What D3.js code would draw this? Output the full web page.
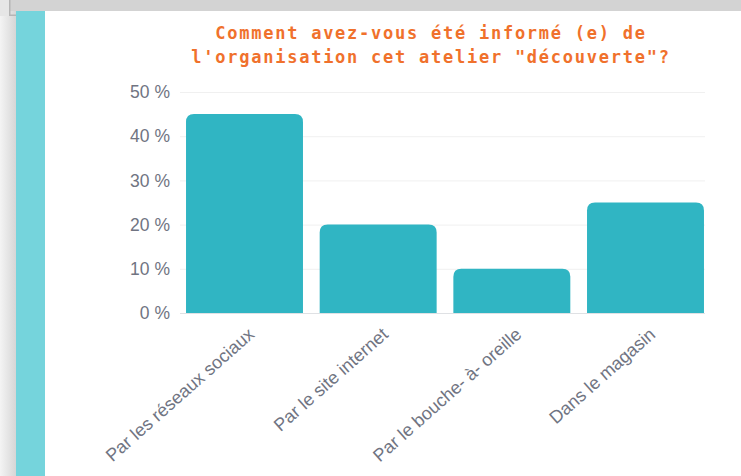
<!DOCTYPE html>
<html>
<head>
<meta charset="utf-8">
<script src="https://cdn.jsdelivr.net/npm/d3@7"></script>
<style>
  body { margin: 0; background: #ffffff; }
  svg { display: block; }
</style>
</head>
<body>
<div id="chart"></div>
<script>
// data
var categories = ["Par les réseaux sociaux", "Par le site internet", "Par le bouche- à- oreille", "Dans le magasin"];
var values = [45, 20, 10, 25];
var yTicks = [0, 10, 20, 30, 40, 50];
var titleLines = ["Comment avez-vous été informé (e) de", "l'organisation cet atelier \"découverte\"?"];

var width = 741;
var height = 476;

var svg = d3.select("#chart").append("svg")
    .attr("width", width)
    .attr("height", height);

// frame around the card (screenshot look)
var defs = svg.append("defs");
var grad = defs.append("linearGradient").attr("id", "shadow")
    .attr("x1", "0").attr("x2", "1").attr("y1", "0").attr("y2", "0");
grad.append("stop").attr("offset", "0").attr("stop-color", "#f4f4f4");
grad.append("stop").attr("offset", "1").attr("stop-color", "#d6d6d6");

svg.append("rect").attr("x", 0).attr("y", 0).attr("width", 16).attr("height", height).attr("fill", "url(#shadow)");
svg.append("rect").attr("x", 0).attr("y", 0).attr("width", 10).attr("height", 16).attr("fill", "#e6e6e6");
svg.append("rect").attr("x", 10).attr("y", 0).attr("width", width - 10).attr("height", 11).attr("fill", "#d3d3d3");
svg.append("rect").attr("x", 9).attr("y", 0).attr("width", 1.5).attr("height", 16).attr("fill", "#b5b5b5");
svg.append("rect").attr("x", 9).attr("y", 14.5).attr("width", 7).attr("height", 1.5).attr("fill", "#b5b5b5");
svg.append("rect").attr("x", 16).attr("y", 11).attr("width", 29).attr("height", height - 11).attr("fill", "#75d4dc");

// title
var title = svg.append("g")
    .attr("font-family", "'DejaVu Sans Mono', monospace")
    .attr("font-weight", "bold")
    .attr("font-size", 17)
    .attr("fill", "#f0712c")
    .attr("text-anchor", "middle");
title.selectAll("text")
    .data(titleLines)
    .enter()
    .append("text")
    .attr("x", 431)
    .attr("y", function(d, i) { return 39 + i * 24; })
    .attr("letter-spacing", "1.75px")
    .text(function(d) { return d; });

// scales
var x = d3.scaleBand()
    .domain(categories)
    .range([178, 712])
    .paddingInner(0.125)
    .paddingOuter(0.06);

var y = d3.scaleLinear()
    .domain([0, 50])
    .range([313, 92]);

// grid lines
svg.append("g")
    .selectAll("line")
    .data(yTicks)
    .enter()
    .append("line")
    .attr("x1", 180)
    .attr("x2", 705)
    .attr("y1", function(d) { return y(d) + 0.5; })
    .attr("y2", function(d) { return y(d) + 0.5; })
    .attr("stroke", function(d) { return d == 0 ? "#dfe1e4" : "#f0f0f0"; })
    .attr("stroke-width", 1);

// y axis labels
var yAxis = d3.axisLeft(y)
    .tickValues(yTicks)
    .tickSize(0)
    .tickPadding(0)
    .tickFormat(function(d) { return d + " %"; });

var yg = svg.append("g")
    .attr("transform", "translate(170,0)")
    .call(yAxis);
yg.select(".domain").remove();
yg.selectAll("text")
    .attr("font-family", "'Liberation Sans', Arial, sans-serif")
    .attr("font-size", 17.5)
    .attr("fill", "#707482");

// bars with rounded tops
var r = 8;
function barPath(d, i) {
    var x0 = x(categories[i]);
    var w = x.bandwidth();
    var y0 = y(d);
    var y1 = y(0);
    return "M" + x0 + "," + y1 +
        "V" + (y0 + r) +
        "Q" + x0 + "," + y0 + " " + (x0 + r) + "," + y0 +
        "H" + (x0 + w - r) +
        "Q" + (x0 + w) + "," + y0 + " " + (x0 + w) + "," + (y0 + r) +
        "V" + y1 + "Z";
}

svg.append("g")
    .selectAll("path")
    .data(values)
    .enter()
    .append("path")
    .attr("d", barPath)
    .attr("fill", "#30b5c3");

// x labels rotated
svg.append("g")
    .selectAll("text")
    .data(categories)
    .enter()
    .append("text")
    .attr("transform", function(d) {
        var cx = x(d) + x.bandwidth() / 2 + 11;
        return "translate(" + cx + ",336) rotate(-41.5)";
    })
    .attr("text-anchor", "end")
    .attr("font-family", "'Liberation Sans', Arial, sans-serif")
    .attr("font-size", 18)
    .attr("fill", "#707482")
    .text(function(d) { return d; });
</script>
</body>
</html>
